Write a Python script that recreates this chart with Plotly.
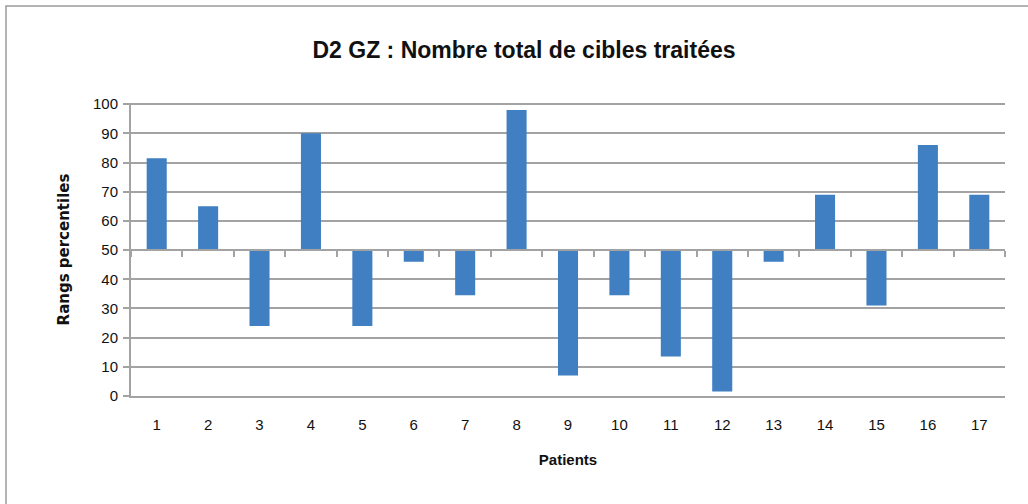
import plotly.graph_objects as go

patients = [str(i) for i in range(1, 18)]
values = [81.5, 65, 24, 90, 24, 46, 34.5, 98, 7, 34.5, 13.5, 1.5, 46, 69, 31, 86, 69]
baseline = 50
y_ticks = list(range(0, 101, 10))

title = "D2 GZ : Nombre total de cibles traitées"
x_title = "Patients"
y_title = "Rangs percentiles"

grid = "#a3a3a3"
bar_col = "#3f7fc2"
FONT = "Liberation Sans, Arial, sans-serif"

fig = go.Figure()
fig.add_trace(go.Bar(
    x=patients,
    y=[v - baseline for v in values],
    base=baseline,
    width=0.39,
    marker=dict(color=bar_col, line=dict(width=0)),
    hoverinfo="skip",
))
# helper invisible trace for the category axis crossing at 50
fig.add_trace(go.Scatter(x=patients, y=[baseline] * len(patients), xaxis="x2",
                         mode="lines", line=dict(width=0), hoverinfo="skip", showlegend=False))

L, R, T, B = 131, 23, 103, 108
W, H = 1028, 504
pw, ph = W - L - R, H - T - B

fig.update_layout(
    width=W, height=H,
    margin=dict(l=L, r=R, t=T, b=B),
    paper_bgcolor="white", plot_bgcolor="white",
    showlegend=False,
    title=dict(text=f"<b>{title}</b>", x=524 / W, xref="container", xanchor="center",
               y=1 - 50 / H, yref="container", yanchor="middle",
               font=dict(family=FONT, size=23, color="#111")),
    font=dict(family=FONT, color="#111"),
    xaxis=dict(
        type="category", showgrid=False, zeroline=False,
        showline=True, linecolor=grid, linewidth=2,
        ticks="", ticklabelstandoff=14,
        tickfont=dict(size=15, color="#111"),
        title=dict(text=f"<b>{x_title}</b>", standoff=22,
                   font=dict(size=15, family=FONT, color="#111")),
    ),
    xaxis2=dict(
        type="category", overlaying="x", anchor="free", position=0.5,
        matches="x", showgrid=False, zeroline=False,
        showline=True, linecolor=grid, linewidth=2,
        ticks="outside", tickson="boundaries", ticklen=6, tickwidth=1.5, tickcolor=grid,
        showticklabels=False,
    ),
    yaxis=dict(
        range=[0, 100.4], tickvals=y_ticks,
        showgrid=True, gridcolor=grid, gridwidth=2,
        zeroline=False, showline=True, linecolor=grid, linewidth=2,
        ticks="outside", ticklen=6, tickwidth=2, tickcolor=grid,
        ticklabelstandoff=2,
        tickfont=dict(size=15, color="#111"),
        title=dict(text=f"<b>{y_title}</b>", standoff=20,
                   font=dict(size=15, family="DejaVu Sans, sans-serif", color="#111")),
    ),
    shapes=[dict(type="rect", xref="paper", yref="paper",
                 x0=(6 - L) / pw, x1=(W + 5 - L) / pw,
                 y0=-(H + 5 - (T + ph)) / ph, y1=1 + (T - 6) / ph,
                 line=dict(color="#9a9a9a", width=1.5), layer="below")],
)

fig.write_html("out.html", config={"displayModeBar": False},
               post_script="document.body.style.margin='0px';")
